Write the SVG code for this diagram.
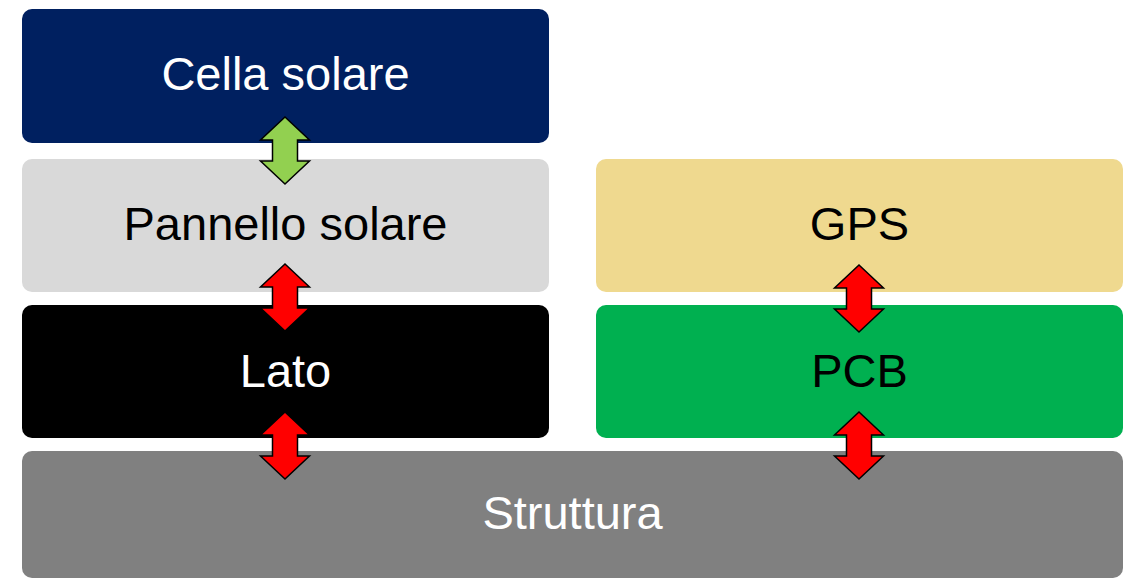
<svg xmlns="http://www.w3.org/2000/svg" width="1132" height="579" viewBox="0 0 1132 579">
<style>
  .lbl { font-family: "Liberation Sans", Arial, sans-serif; font-size: 47px; text-anchor: middle; }
  .w { fill: #FFFFFF; }
  .k { fill: #000000; }
  .arr { stroke: #000000; stroke-width: 1.5; stroke-linejoin: miter; }
</style>
<defs>
  <path id="dbl" d="M0,0 L24.5,23 L12.5,23 L12.5,44 L24.5,44 L0,67 L-24.5,44 L-12.5,44 L-12.5,23 L-24.5,23 Z"/>
</defs>
<rect width="1132" height="579" fill="#FFFFFF"/>
<g id="cella">
  <rect x="22" y="9" width="527" height="134" rx="10" fill="#002060"/>
  <text class="lbl w" x="285.5" y="90">Cella solare</text>
</g>
<g id="pannello">
  <rect x="22" y="159" width="527" height="133" rx="10" fill="#D9D9D9"/>
  <text class="lbl k" x="285.5" y="240">Pannello solare</text>
</g>
<g id="gps">
  <rect x="596" y="159" width="527" height="133" rx="10" fill="#EFD98F"/>
  <text class="lbl k" x="859.5" y="240">GPS</text>
</g>
<g id="lato">
  <rect x="22" y="305" width="527" height="133" rx="10" fill="#000000"/>
  <text class="lbl w" x="285.5" y="387">Lato</text>
</g>
<g id="pcb">
  <rect x="596" y="305" width="527" height="133" rx="10" fill="#00B050"/>
  <text class="lbl k" x="859.5" y="387">PCB</text>
</g>
<g id="struttura">
  <rect x="22" y="451" width="1101" height="127" rx="10" fill="#808080"/>
  <text class="lbl w" x="572.5" y="529">Struttura</text>
</g>
<g id="connectors">
  <use href="#dbl" class="arr" fill="#92D050" transform="translate(285,117)"/>
  <use href="#dbl" class="arr" fill="#FF0000" transform="translate(285,264)"/>
  <use href="#dbl" class="arr" fill="#FF0000" transform="translate(859,265)"/>
  <use href="#dbl" class="arr" fill="#FF0000" transform="translate(285,412)"/>
  <use href="#dbl" class="arr" fill="#FF0000" transform="translate(859,412)"/>
</g>
</svg>
